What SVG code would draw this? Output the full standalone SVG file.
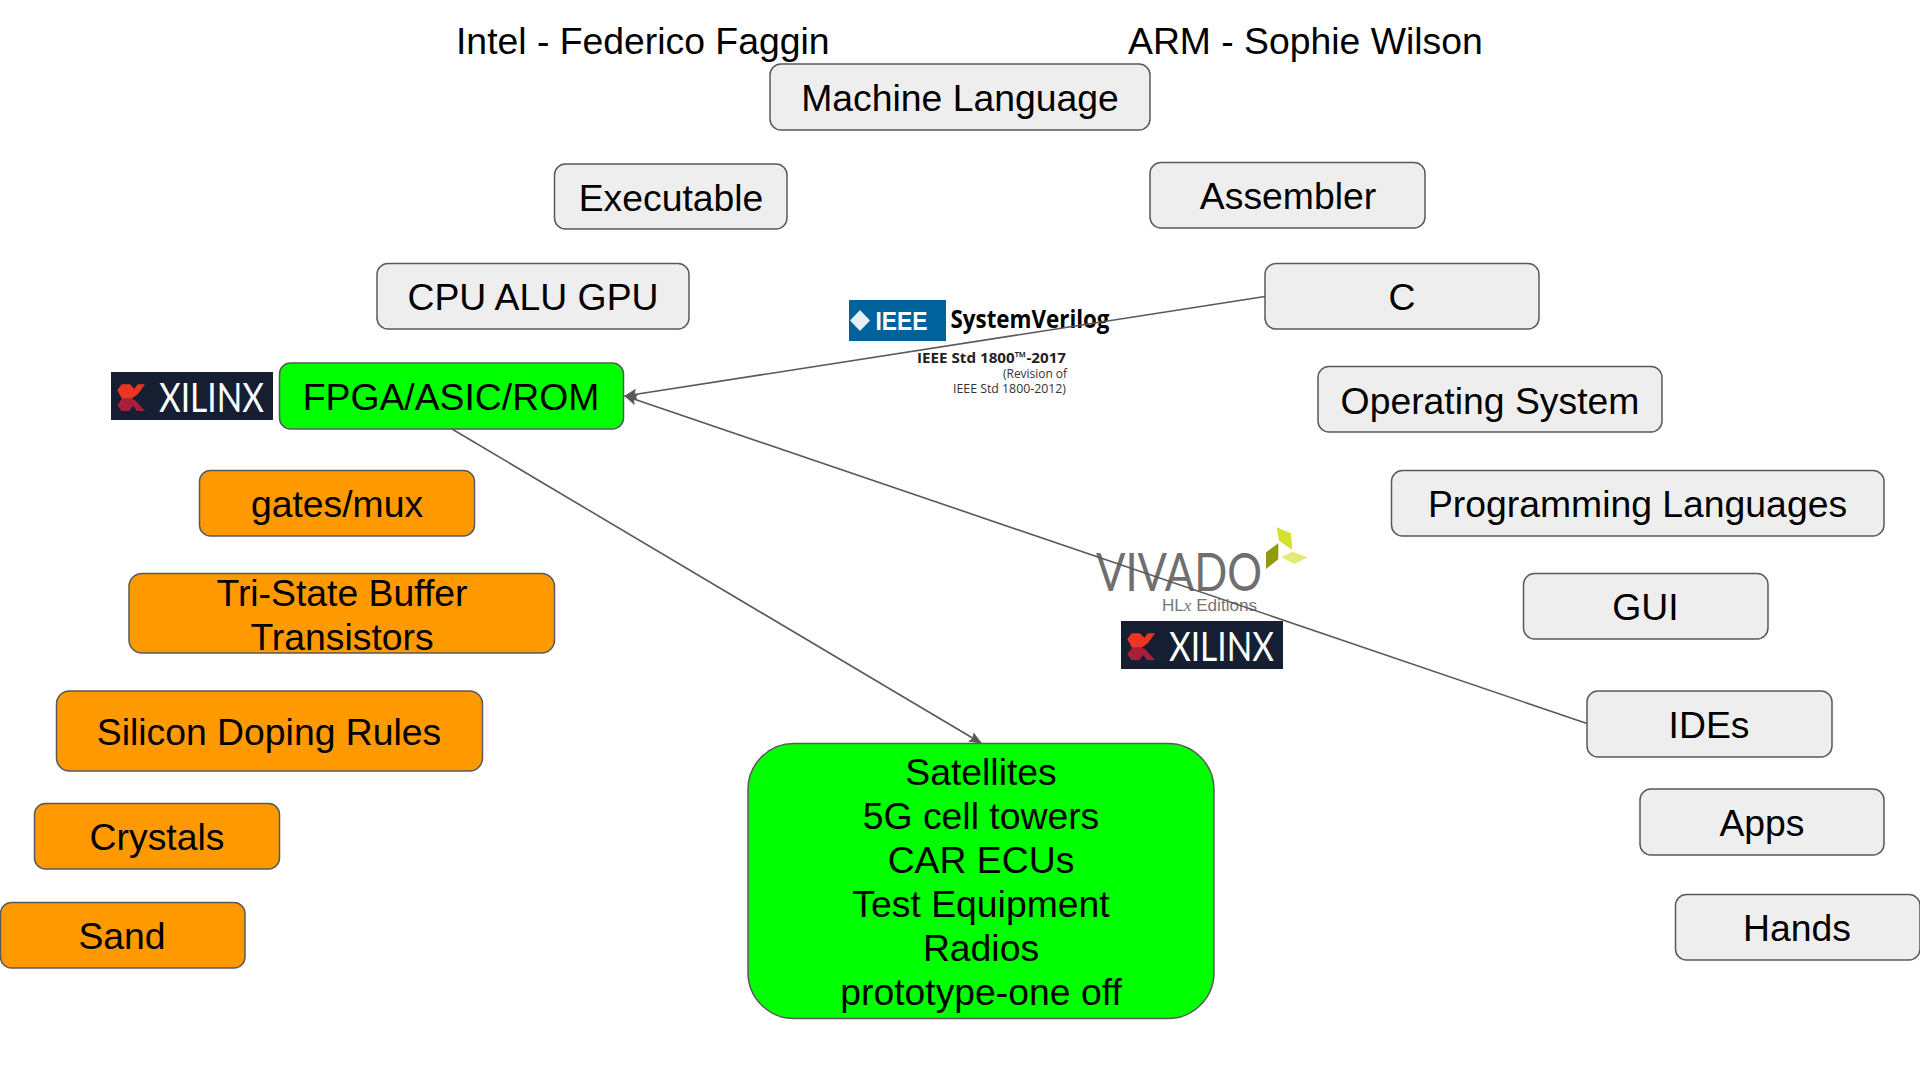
<svg xmlns="http://www.w3.org/2000/svg" width="1920" height="1080" viewBox="0 0 1920 1080">
<defs>
<marker id="arrow" markerUnits="userSpaceOnUse" markerWidth="14" markerHeight="12" refX="12" refY="6" orient="auto"><path d="M1 1.500 L12 6 L1 10.500 L3 6 Z" fill="#595959" stroke="#595959"/></marker>
<g id="xilinx"><rect width="162" height="48" fill="#161e31"/>
<path d="M6.300 18 L10.700 12.300 H19 L23.300 17 L26.700 12.300 H34 L27 22 L20.700 26.700 H11 Z" fill="#ee3524"/>
<path d="M6.300 33.300 L11 26.700 H21.300 L24.700 28.700 L34 39 H26 L22 34 L18 39 H10.700 Z" fill="#a81f3d"/>
<text x="48" y="40" class="xl" textLength="105" lengthAdjust="spacingAndGlyphs">XILINX</text></g>
</defs>
<style>
text{font-family:"Liberation Sans",Arial,sans-serif;fill:#000}
.t{font-size:37.330px;text-anchor:middle}
.h{font-size:37.330px}
.n{stroke:#595959;stroke-width:1.500}
.g{fill:#eeeeee}.o{fill:#ff9900}.l{fill:#00ff00}
.c{fill:none;stroke:#595959;stroke-width:1.600;marker-end:url(#arrow)}
.xl{font-family:Lato,"Liberation Sans",sans-serif;font-size:40px;fill:#fff}
.os{font-family:"Open Sans","Liberation Sans",sans-serif;text-anchor:start}
</style>
<rect width="1920" height="1080" fill="#fff"/>
<g id="logos">
<g id="ieee-logo">
<rect x="849" y="300" width="97" height="41" fill="#00629b"/>
<path d="M860 310 L870 320.500 L860 331 L850 320.500Z" fill="#e8f0f6"/>
<text x="875.500" y="330" font-size="25" font-weight="700" style="fill:#fff" textLength="52" lengthAdjust="spacingAndGlyphs">IEEE</text>
<text class="os" x="950.500" y="328" font-size="25" font-weight="700" textLength="159" lengthAdjust="spacingAndGlyphs">SystemVerilog</text>
<text class="os" x="917" y="363" font-size="15" font-weight="700" style="fill:#222" textLength="149" lengthAdjust="spacingAndGlyphs">IEEE Std 1800™-2017</text>
<text class="os" x="1003" y="378" font-size="12" style="fill:#333" textLength="64" lengthAdjust="spacingAndGlyphs">(Revision of</text>
<text class="os" x="953" y="392.500" font-size="12" style="fill:#333" textLength="113" lengthAdjust="spacingAndGlyphs">IEEE Std 1800-2012)</text>
</g>
<g id="vivado-logo">
<text x="1096" y="591" font-size="52" font-weight="400" style="font-family:Lato,sans-serif;fill:#6f6f6f" textLength="166" lengthAdjust="spacingAndGlyphs">VIVADO</text>
<text x="1162" y="610.500" font-size="16" style="fill:#777" textLength="95" lengthAdjust="spacingAndGlyphs">HL<tspan font-style="italic" style="font-family:'Liberation Serif',serif;fill:#777">x</tspan> Editions</text>
<path d="M1276.700 527.300 L1291 533.300 L1292.300 550 L1279 540.700Z" fill="#d6e030"/>
<path d="M1281 557.300 L1292.300 551.700 L1307.700 557.300 L1294.300 564Z" fill="#e3ea78"/>
<path d="M1266 552.300 L1278.300 543.300 L1278.300 559.300 L1266 569Z" fill="#8f9a10"/>
</g>
<use id="xilinx-left" href="#xilinx" x="111" y="372"/>
<use id="xilinx-right" href="#xilinx" x="1121" y="621"/>
</g>
<g id="connectors">
<path class="c" d="M1265 296.500 L625 396"/>
<path class="c" d="M1587 723.500 L625 396"/>
<path class="c" d="M452 429 L981 743"/>
</g>
<g id="title-left"><text class="h" x="456" y="54">Intel - Federico Faggin</text></g>
<g id="title-right"><text class="h" x="1128" y="54">ARM - Sophie Wilson</text></g>
<g id="machine"><rect class="n g" x="770" y="64" width="380" height="66" rx="11"/><text class="t" x="960" y="111">Machine Language</text></g>
<g id="executable"><rect class="n g" x="554.500" y="164" width="232.500" height="65" rx="11"/><text class="t" x="671" y="211">Executable</text></g>
<g id="assembler"><rect class="n g" x="1150" y="162.500" width="275" height="65.500" rx="11"/><text class="t" x="1288" y="209">Assembler</text></g>
<g id="cpu"><rect class="n g" x="377" y="263.500" width="312" height="65.500" rx="11"/><text class="t" x="533" y="310">CPU ALU GPU</text></g>
<g id="c"><rect class="n g" x="1265" y="263.500" width="274" height="65.500" rx="11"/><text class="t" x="1402" y="310">C</text></g>
<g id="fpga"><rect class="n l" x="279.500" y="363" width="344" height="66" rx="11"/><text class="t" x="451" y="410">FPGA/ASIC/ROM</text></g>
<g id="os"><rect class="n g" x="1318" y="366.500" width="344" height="65.500" rx="11"/><text class="t" x="1490" y="414">Operating System</text></g>
<g id="gates"><rect class="n o" x="199.500" y="470.500" width="275" height="65.500" rx="11"/><text class="t" x="337" y="517">gates/mux</text></g>
<g id="pl"><rect class="n g" x="1391.500" y="470.500" width="492.500" height="65.500" rx="11"/><text class="t" x="1637.500" y="517">Programming Languages</text></g>
<g id="tristate"><rect class="n o" x="129" y="573.500" width="425.500" height="79.500" rx="13"/><text class="t" x="342" y="606">Tri-State Buffer</text><text class="t" x="342" y="650">Transistors</text></g>
<g id="gui"><rect class="n g" x="1523.500" y="573.500" width="244.500" height="65.500" rx="11"/><text class="t" x="1645.500" y="620">GUI</text></g>
<g id="silicon"><rect class="n o" x="56.500" y="691" width="426" height="80" rx="13"/><text class="t" x="269" y="745">Silicon Doping Rules</text></g>
<g id="ides"><rect class="n g" x="1587" y="691" width="245" height="66" rx="11"/><text class="t" x="1709" y="738">IDEs</text></g>
<g id="satellites"><rect class="n l" x="748" y="743.500" width="466" height="275" rx="46"/>
<text class="t" x="981" y="785">Satellites</text><text class="t" x="981" y="829">5G cell towers</text><text class="t" x="981" y="873">CAR ECUs</text><text class="t" x="981" y="917">Test Equipment</text><text class="t" x="981" y="961">Radios</text><text class="t" x="981" y="1005">prototype-one off</text></g>
<g id="apps"><rect class="n g" x="1640" y="789" width="244" height="66" rx="11"/><text class="t" x="1762" y="836">Apps</text></g>
<g id="crystals"><rect class="n o" x="34.500" y="803.500" width="245" height="65.500" rx="11"/><text class="t" x="157" y="850">Crystals</text></g>
<g id="hands"><rect class="n g" x="1675.500" y="894.500" width="244.500" height="65.500" rx="11"/><text class="t" x="1797" y="941">Hands</text></g>
<g id="sand"><rect class="n o" x="0.500" y="902.500" width="244.500" height="65.500" rx="11"/><text class="t" x="122" y="949">Sand</text></g>
</svg>
